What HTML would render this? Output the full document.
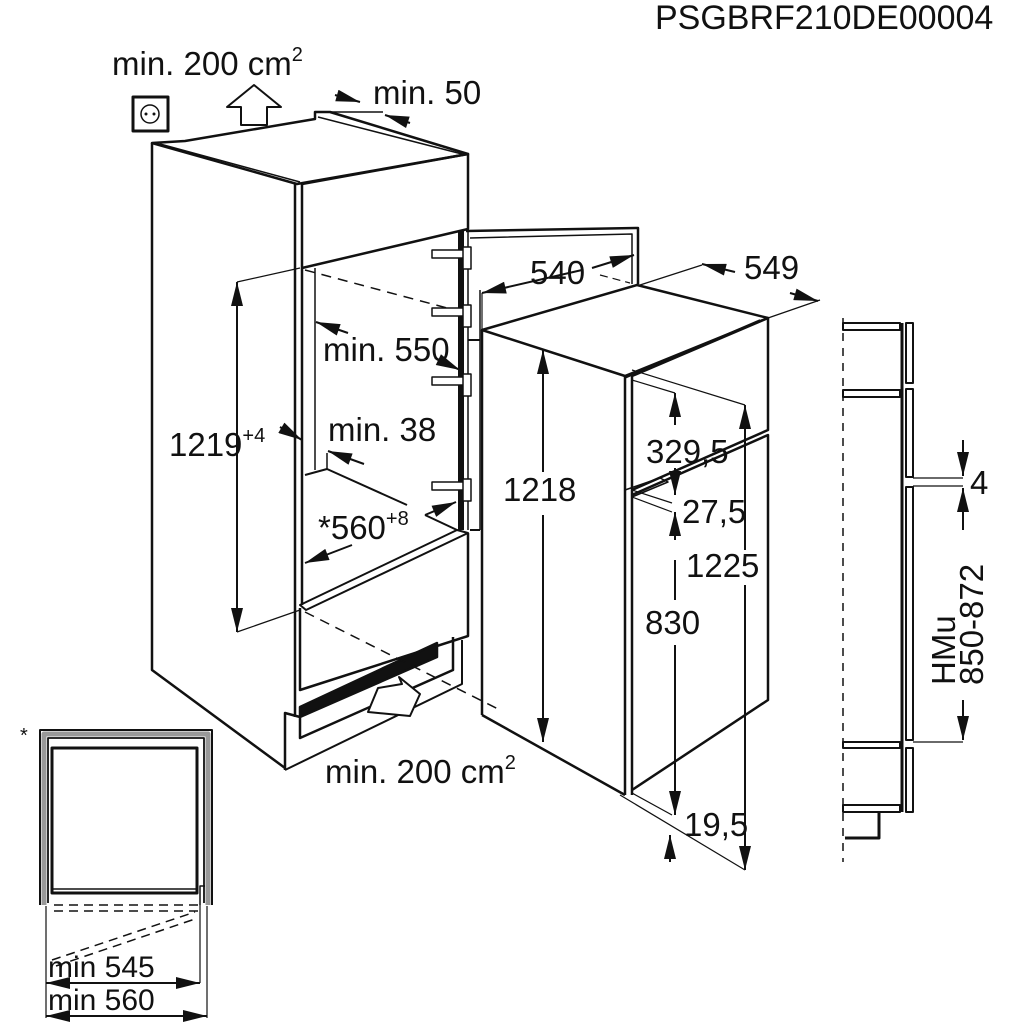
<!DOCTYPE html>
<html><head><meta charset="utf-8"><style>
html,body{margin:0;padding:0;background:#fff}
svg{display:block}
text{font-family:"Liberation Sans",Arial,sans-serif;fill:#111}
</style></head><body>
<svg width="1024" height="1024" viewBox="0 0 1024 1024" xmlns="http://www.w3.org/2000/svg">
<defs>
<marker id="b" viewBox="0 0 20 10" refX="20" refY="5" markerWidth="26" markerHeight="12" orient="auto-start-reverse" markerUnits="userSpaceOnUse"><path d="M0,0 L20,5 L0,10 z" fill="#111"/></marker>
</defs>
<text x="655" y="29" font-size="34">PSGBRF210DE00004</text>
<text x="112" y="75" font-size="33">min. 200 cm<tspan font-size="20" dy="-14">2</tspan></text>
<text x="373" y="104" font-size="33">min. 50</text>

<g stroke="#111" fill="none" stroke-width="2.5" stroke-linejoin="round">
<rect x="133" y="97" width="35" height="34" stroke-width="3"/>
<circle cx="150" cy="114" r="9" stroke-width="1.5"/>
<circle cx="146" cy="114" r="1.5" fill="#111" stroke="none"/><circle cx="154" cy="114" r="1.5" fill="#111" stroke="none"/>
<path d="M241,125 L241,107 L227,107 L254,85 L281,107 L267,107 L267,125 Z" stroke-width="2"/>
<line x1="335" y1="95" x2="360" y2="102" marker-end="url(#b)" stroke-width="2"/>
<line x1="410" y1="123" x2="385" y2="115" marker-end="url(#b)" stroke-width="2"/>

<path d="M152,143 L297,184 L468,154 L330,112 L315,112 L315,119 L185,141 Z"/>
<line x1="160" y1="144" x2="300" y2="182" stroke-width="1.5"/>
<line x1="318" y1="117" x2="462" y2="154" stroke-width="1.5"/>
<line x1="315" y1="112" x2="383" y2="112" stroke-width="1.5"/>
<path d="M152,143 L152,670 L285,768"/>
<line x1="295" y1="184" x2="295" y2="717"/>
<line x1="302" y1="184" x2="302" y2="605"/>
<path d="M302,184 L468,154 L468,229 L302,268"/>
<line x1="315" y1="268" x2="315" y2="470" stroke-width="1.5"/>
<path d="M305,475 L327,469 L407,505" stroke-width="2"/>
<path d="M425,515 L457,530" stroke-width="2"/>
<line x1="327" y1="469" x2="327" y2="453" stroke-width="1.5"/>
<path d="M300,605 L457,530 L468,533 L306,610 Z" stroke-width="2"/>
<path d="M300,608 L300,690 L468,636 L468,533"/>
<path d="M285,770 L285,713 L300,717 L300,738 L453,670 L453,637"/>
<path d="M285,770 L462,684 L462,640" stroke-width="2"/>
<path d="M300,717 L300,707 L437,643 L437,657 Z" fill="#111"/>
<path d="M368,712 L378,688 L402,684 L399,677 L420,694 L410,716 Z" fill="#fff" stroke-width="2"/>
<line x1="305" y1="270" x2="462" y2="312" stroke-dasharray="10,7" stroke-width="1.5"/>
<line x1="305" y1="612" x2="500" y2="710" stroke-dasharray="10,7" stroke-width="1.5"/>
<line x1="237" y1="282" x2="237" y2="632" marker-start="url(#b)" marker-end="url(#b)" stroke-width="2"/>
<line x1="237" y1="282" x2="300" y2="268" stroke-width="1.2"/>
<line x1="237" y1="632" x2="300" y2="610" stroke-width="1.2"/>
<line x1="348" y1="333" x2="316" y2="322" marker-end="url(#b)" stroke-width="2"/>
<line x1="280" y1="427" x2="302" y2="440" marker-end="url(#b)" stroke-width="2"/>
<line x1="364" y1="464" x2="328" y2="451" marker-end="url(#b)" stroke-width="2"/>
<line x1="352" y1="545" x2="305" y2="563" marker-end="url(#b)" stroke-width="2"/>
<line x1="425" y1="515" x2="456" y2="502" marker-end="url(#b)" stroke-width="2"/>
<line x1="435" y1="358" x2="460" y2="370" marker-end="url(#b)" stroke-width="2"/>

<line x1="461" y1="231" x2="461" y2="530" stroke-width="6"/>
<path d="M466,231 L638,228 L638,284"/>
<path d="M470,238 L632,234 L632,284" stroke-width="1.5"/>
<line x1="468" y1="340" x2="480" y2="340" stroke-width="2"/>
<line x1="468" y1="232" x2="468" y2="530" stroke-width="1.5"/>
<path d="M470,530 L480,530" stroke-width="2"/>
<line x1="480" y1="290" x2="480" y2="530" stroke-width="1.5"/>

<g stroke-width="1.5" fill="#fff">
<rect x="432" y="250" width="32" height="8"/><rect x="463" y="247" width="8" height="22"/>
<rect x="432" y="308" width="32" height="8"/><rect x="463" y="305" width="8" height="22"/>
<rect x="432" y="377" width="32" height="8"/><rect x="463" y="374" width="8" height="22"/>
<rect x="432" y="482" width="32" height="8"/><rect x="463" y="479" width="8" height="22"/>
</g>

<path d="M482,330 L637,285 L768,318 L625,376 Z"/>
<line x1="482" y1="330" x2="482" y2="715"/>
<path d="M482,715 L625,795"/>
<line x1="625" y1="376" x2="625" y2="795"/>
<line x1="632" y1="376" x2="632" y2="795"/>
<path d="M632,376 L768,318 L768,430 L632,490"/>
<path d="M625,378 L760,320" stroke-width="1.5"/>
<path d="M632,495 L768,435 L768,700 L632,790"/>
<path d="M625,490 L660,478 L668,482 L632,497" stroke-width="1.5"/>
<line x1="582" y1="270" x2="482" y2="293" marker-end="url(#b)" stroke-width="2"/>
<line x1="592" y1="268" x2="634" y2="255" marker-end="url(#b)" stroke-width="2"/>
<line x1="482" y1="293" x2="482" y2="330" stroke-width="1.2"/>
<line x1="600" y1="275" x2="630" y2="283" stroke-width="1.2" stroke-dasharray="8,5"/>
<line x1="640" y1="285" x2="702" y2="265" stroke-width="1.2"/>
<line x1="768" y1="318" x2="820" y2="300" stroke-width="1.2"/>
<line x1="735" y1="272" x2="702" y2="264" marker-end="url(#b)" stroke-width="2"/>
<line x1="790" y1="293" x2="818" y2="301" marker-end="url(#b)" stroke-width="2"/>
<line x1="543" y1="350" x2="543" y2="472" marker-start="url(#b)" stroke-width="2"/>
<line x1="543" y1="515" x2="543" y2="742" marker-end="url(#b)" stroke-width="2"/>
<line x1="675" y1="425" x2="675" y2="393" marker-end="url(#b)" stroke-width="2"/>
<line x1="632" y1="380" x2="675" y2="393" stroke-width="1.2"/>
<line x1="675" y1="468" x2="675" y2="495" marker-end="url(#b)" stroke-width="2"/>
<line x1="632" y1="490" x2="672" y2="503" stroke-width="1.2"/>
<line x1="632" y1="497" x2="672" y2="512" stroke-width="1.2"/>
<line x1="675" y1="540" x2="675" y2="512" marker-end="url(#b)" stroke-width="2"/>
<line x1="675" y1="560" x2="675" y2="600" stroke-width="2"/>
<line x1="675" y1="645" x2="675" y2="815" marker-end="url(#b)" stroke-width="2"/>
<line x1="745" y1="550" x2="745" y2="405" marker-end="url(#b)" stroke-width="2"/>
<line x1="632" y1="370" x2="745" y2="405" stroke-width="1.2"/>
<line x1="745" y1="585" x2="745" y2="870" marker-end="url(#b)" stroke-width="2"/>
<line x1="620" y1="795" x2="745" y2="870" stroke-width="1.2"/>
<line x1="632" y1="793" x2="672" y2="815" stroke-width="1.2"/>
<line x1="670" y1="862" x2="670" y2="835" marker-end="url(#b)" stroke-width="2"/>

<line x1="843" y1="318" x2="843" y2="862" stroke-dasharray="8,7" stroke-width="1.5"/>
<rect x="843" y="323" width="57" height="7" stroke-width="2"/>
<rect x="843" y="390" width="57" height="7" stroke-width="2"/>
<rect x="843" y="742" width="57" height="6" stroke-width="2"/>
<rect x="843" y="805" width="57" height="7" stroke-width="2"/>
<line x1="902" y1="323" x2="902" y2="812" stroke-width="3"/>
<rect x="906" y="323" width="7" height="60" stroke-width="2"/>
<rect x="906" y="389" width="7" height="88" stroke-width="2"/>
<rect x="906" y="487" width="7" height="253" stroke-width="2"/>
<rect x="906" y="748" width="7" height="64" stroke-width="2"/>
<path d="M879,812 L879,838 L845,838" stroke-width="3"/>
<line x1="913" y1="478" x2="963" y2="478" stroke-width="1.2"/>
<line x1="913" y1="486" x2="963" y2="486" stroke-width="1.2"/>
<line x1="913" y1="742" x2="963" y2="742" stroke-width="1.2"/>
<line x1="963" y1="440" x2="963" y2="476" marker-end="url(#b)" stroke-width="2"/>
<line x1="963" y1="530" x2="963" y2="488" marker-end="url(#b)" stroke-width="2"/>
<line x1="963" y1="700" x2="963" y2="740" marker-end="url(#b)" stroke-width="2"/>

<path d="M40,905 L40,730 L212,730 L212,905" stroke-width="2"/>
<path d="M44,905 L44,734 L208,734 L208,905" stroke="#999" stroke-width="5"/>
<path d="M48,903 L48,738 L204,738 L204,903" stroke-width="1.8"/>
<rect x="52" y="748" width="145" height="145" stroke-width="3"/>
<line x1="52" y1="889" x2="197" y2="889" stroke-width="1.5"/>
<line x1="54" y1="905" x2="200" y2="905" stroke-dasharray="9,6" stroke-width="1.5"/>
<line x1="54" y1="911" x2="200" y2="911" stroke-dasharray="9,6" stroke-width="1.5"/>
<line x1="52" y1="960" x2="195" y2="912" stroke-dasharray="9,6" stroke-width="1.5"/>
<line x1="56" y1="966" x2="198" y2="918" stroke-dasharray="9,6" stroke-width="1.5"/>
<path d="M200,905 L200,886 L205,886" stroke-width="1.5"/>
<line x1="46" y1="906" x2="46" y2="1018" stroke-width="1.2"/>
<line x1="200" y1="905" x2="200" y2="983" stroke-width="1.2"/>
<line x1="207" y1="906" x2="207" y2="1018" stroke-width="1.2"/>
<line x1="46" y1="983" x2="200" y2="983" marker-start="url(#b)" marker-end="url(#b)" stroke-width="2"/>
<line x1="46" y1="1016" x2="207" y2="1016" marker-start="url(#b)" marker-end="url(#b)" stroke-width="2"/>
</g>

<text x="323" y="361" font-size="33">min. 550</text>
<text x="169" y="456" font-size="33">1219<tspan font-size="20" dy="-14">+4</tspan></text>
<text x="328" y="441" font-size="33">min. 38</text>
<text x="318" y="539" font-size="33">*560<tspan font-size="20" dy="-14">+8</tspan></text>
<text x="325" y="783" font-size="33">min. 200 cm<tspan font-size="20" dy="-14">2</tspan></text>
<text x="503" y="501" font-size="33">1218</text>
<text x="530" y="284" font-size="33">540</text>
<text x="744" y="279" font-size="33">549</text>
<text x="646" y="463" font-size="33">329,5</text>
<text x="682" y="523" font-size="33">27,5</text>
<text x="686" y="577" font-size="33">1225</text>
<text x="645" y="634" font-size="33">830</text>
<text x="684" y="836" font-size="33">19,5</text>
<text x="970" y="494" font-size="33">4</text>
<text transform="translate(955,685) rotate(-90)" font-size="33">HMu</text>
<text transform="translate(983,685) rotate(-90)" font-size="33">850-872</text>
<text x="20" y="742" font-size="20">*</text>
<text x="48" y="977" font-size="30">min 545</text>
<text x="48" y="1010" font-size="30">min 560</text>
</svg>
</body></html>
